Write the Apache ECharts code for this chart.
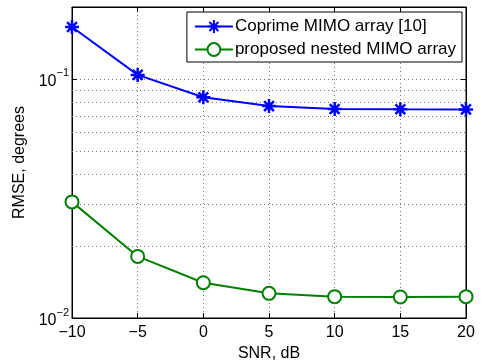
<!DOCTYPE html>
<html>
<head>
<meta charset="utf-8">
<script src="https://cdn.jsdelivr.net/npm/echarts@6/dist/echarts.min.js"></script>
<style>html,body{margin:0;padding:0;background:#fff}#c{width:482px;height:360px}</style>
</head>
<body>
<div id="c"></div>
<script>
var snr = [-10, -5, 0, 5, 10, 15, 20];
var coprime = [0.165, 0.104, 0.0838, 0.0770, 0.0749, 0.0747, 0.0746];
var nested = [0.0306, 0.0181, 0.01405, 0.01268, 0.01228, 0.01225, 0.01228];
var seriesNames = ['Coprime MIMO array [10]', 'proposed nested MIMO array'];
var minorGrid = [0.02, 0.03, 0.04, 0.05, 0.06, 0.07, 0.08, 0.09];
var xTicks = [-10, -5, 0, 5, 10, 15, 20];

var FONT = '"Liberation Sans", Arial, sans-serif';
var chart = echarts.init(document.getElementById('c'));
function pairs(xs, ys) { return xs.map(function (x, i) { return [x, ys[i]]; }); }
var gridDot = { color: '#777', width: 1, type: [1, 3] };
var asterisk = 'path://M0,-10L0,10M-10,0L10,0M-7,-7L7,7M-7,7L7,-7';
var axisLineStyle = { show: true, onZero: false, lineStyle: { color: '#000', width: 1 } };
var tickStyle = { show: true, inside: true, length: 5, lineStyle: { color: '#000' } };

chart.setOption({
  animation: false,
  backgroundColor: '#fff',
  textStyle: { fontFamily: FONT },
  grid: { left: 72, right: 16, top: 7, bottom: 42, show: true, borderColor: '#000', borderWidth: 1, backgroundColor: '#fff',
    outerBoundsMode: 'none', containLabel: false },
  legend: {
    orient: 'vertical', right: 20, top: 12,
    backgroundColor: '#fff', borderColor: '#000', borderWidth: 1, borderRadius: 0,
    padding: [6, 6, 4, 7], itemGap: 6, itemWidth: 38, itemHeight: 16,
    textStyle: { fontFamily: FONT, fontSize: 17, color: '#000', padding: [0, 0, 0, -3] },
    data: seriesNames
  },
  xAxis: [{
    type: 'value', min: -10, max: 20, interval: 5,
    name: 'SNR, dB', nameLocation: 'middle', nameGap: 22,
    nameTextStyle: { fontFamily: FONT, fontSize: 16, color: '#000' },
    axisLine: axisLineStyle,
    axisTick: tickStyle,
    axisLabel: { fontFamily: FONT, fontSize: 16, color: '#000', margin: 7,
      formatter: function (v) { return String(v).replace('-', '\u2212'); } },
    splitLine: { show: true, lineStyle: gridDot }
  }, {
    type: 'value', min: -10, max: 20, interval: 5, position: 'top',
    axisLine: axisLineStyle,
    axisTick: tickStyle,
    axisLabel: { show: false }, splitLine: { show: false }
  }],
  yAxis: [{
    type: 'log', logBase: 10, min: 0.01, max: 0.2,
    name: 'RMSE, degrees', nameLocation: 'middle', nameGap: 36, nameRotate: 90,
    nameTextStyle: { fontFamily: FONT, fontSize: 16, color: '#000' },
    axisLine: axisLineStyle,
    axisTick: tickStyle,
    axisLabel: {
      fontFamily: FONT, fontSize: 16, color: '#000', margin: 3,
      showMaxLabel: false,
      formatter: function (v) {
        var e = Math.round(Math.log10(v));
        if (Math.abs(Math.log10(v) - e) > 1e-6) return '';
        return '{b|10}{s|\u2212' + Math.abs(e) + '}';
      },
      rich: {
        b: { fontFamily: FONT, fontSize: 16, color: '#000', lineHeight: 22, verticalAlign: 'bottom' },
        s: { fontFamily: FONT, fontSize: 11, color: '#000', lineHeight: 22, verticalAlign: 'top' }
      }
    },
    splitLine: { show: true, lineStyle: gridDot }
  }, {
    type: 'log', logBase: 10, min: 0.01, max: 0.2, position: 'right',
    axisLine: axisLineStyle,
    axisTick: tickStyle,
    axisLabel: { show: false }, splitLine: { show: false }
  }],
  series: [{
    name: seriesNames[0], type: 'line', data: pairs(snr, coprime),
    symbol: asterisk, symbolSize: 14,
    lineStyle: { color: '#0000ff', width: 2 },
    itemStyle: { color: '#0000ff', borderColor: '#0000ff', borderWidth: 2.5 },
    z: 5,
    markLine: {
      silent: true, symbol: 'none', label: { show: false },
      lineStyle: gridDot,
      data: minorGrid.map(function (v) { return { yAxis: v }; })
    }
  }, {
    name: seriesNames[1], type: 'line', data: pairs(snr, nested),
    symbol: 'circle', symbolSize: 13,
    lineStyle: { color: '#008000', width: 2 },
    itemStyle: { color: '#fff', borderColor: '#008000', borderWidth: 2 },
    z: 5
  }]
});
</script>
</body>
</html>
